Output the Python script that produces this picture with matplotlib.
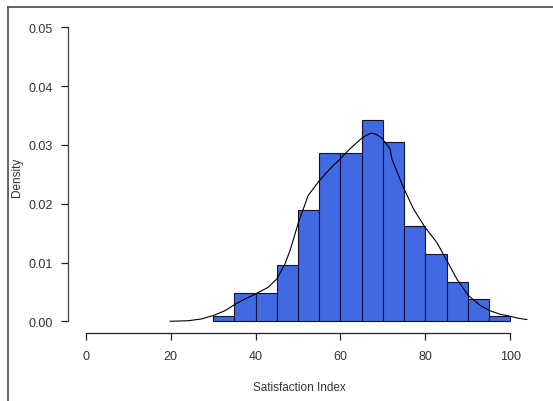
import numpy as np
import matplotlib.pyplot as plt
from matplotlib.lines import Line2D

plt.rcParams['font.family'] = ['Liberation Sans', 'DejaVu Sans']

# Histogram bins (width 5) and their densities
bin_edges = [30, 35, 40, 45, 50, 55, 60, 65, 70, 75, 80, 85, 90, 95, 100]
densities = [0.00095, 0.00476, 0.00476, 0.00952, 0.0190, 0.0286, 0.0286,
             0.0343, 0.0305, 0.0162, 0.0114, 0.00667, 0.0038, 0.00095]

# Density curve
curve_x = [19.9, 24.2, 27.3, 30.1, 32.8, 35.2, 37.5, 39.9, 43.0, 45.0, 46.9,
           48.2, 50.1, 52.4, 55.0, 57.5, 59.9, 62.2, 64.8, 66.0, 67.2, 68.4,
           69.7, 71.7, 72.1, 74.8, 77.2, 79.9, 82.7, 85.0, 87.4, 90.1, 92.9,
           95.2, 97.6, 100.0, 102.0, 103.9]
curve_y = [0.0, 0.0001, 0.0004, 0.0010, 0.0018, 0.0029, 0.0038, 0.0046,
           0.0058, 0.0072, 0.0097, 0.0122, 0.0168, 0.0214, 0.0239, 0.0259,
           0.0276, 0.0293, 0.0310, 0.0316, 0.0320, 0.0318, 0.0312, 0.0293,
           0.0276, 0.0228, 0.0191, 0.0160, 0.0134, 0.0104, 0.0072, 0.0044,
           0.0027, 0.0018, 0.0012, 0.00085, 0.0005, 0.0003]

W, H = 553, 402
fig = plt.figure(figsize=(W / 100, H / 100), dpi=100)

# axes placed so the data area matches the reference
left_px, right_px, bottom_px, top_px = 68.3, 530.0, 334.3, 20.0
ax = fig.add_axes([left_px / W, 1 - bottom_px / H,
                   (right_px - left_px) / W, (bottom_px - top_px) / H])

x0 = 85.7
sx = (510.3 - 85.7) / 100
y0 = 322.3
sy = (322.3 - 28.3) / 0.05
ax.set_xlim((left_px - x0) / sx, (right_px - x0) / sx)
ax.set_ylim((y0 - bottom_px) / sy, (y0 - top_px) / sy)

ax.bar(bin_edges[:-1], densities, width=np.diff(bin_edges), align='edge',
       color='#4169E1', edgecolor='#111133', linewidth=0.8)
ax.plot(curve_x, curve_y, color='black', linewidth=0.8)

for s in ['top', 'right']:
    ax.spines[s].set_visible(False)
ax.spines['bottom'].set_bounds(0, 100)
ax.spines['left'].set_bounds(0, 0.05)
ax.spines['bottom'].set_color('#222222')
ax.spines['left'].set_color('#444444')
ax.spines['bottom'].set_linewidth(0.9)
ax.spines['left'].set_linewidth(0.9)

ax.set_xticks([0, 20, 40, 60, 80, 100])
ax.set_yticks([0.0, 0.01, 0.02, 0.03, 0.04, 0.05])
ax.set_yticklabels(['0.00', '0.01', '0.02', '0.03', '0.04', '0.05'])
ax.tick_params(axis='both', direction='out', length=4.8, width=0.9,
               labelsize=9, colors='#222222', labelcolor='#333333')
ax.tick_params(axis='y', pad=6.5)
ax.tick_params(axis='x', pad=7)

ax.set_xlabel('Satisfaction Index', fontsize=8.5, color='#333333', labelpad=14)
ax.set_ylabel('Density', fontsize=8.5, color='#333333', labelpad=4)

# window frame lines at top and left
fig.add_artist(Line2D([7.5 / W, 1], [1 - 7.5 / H, 1 - 7.5 / H],
                      color='#555555', linewidth=1.3))
fig.add_artist(Line2D([7.5 / W, 7.5 / W], [0, 1 - 7.5 / H],
                      color='#555555', linewidth=1.3))

fig.savefig('out.png', dpi=100)
